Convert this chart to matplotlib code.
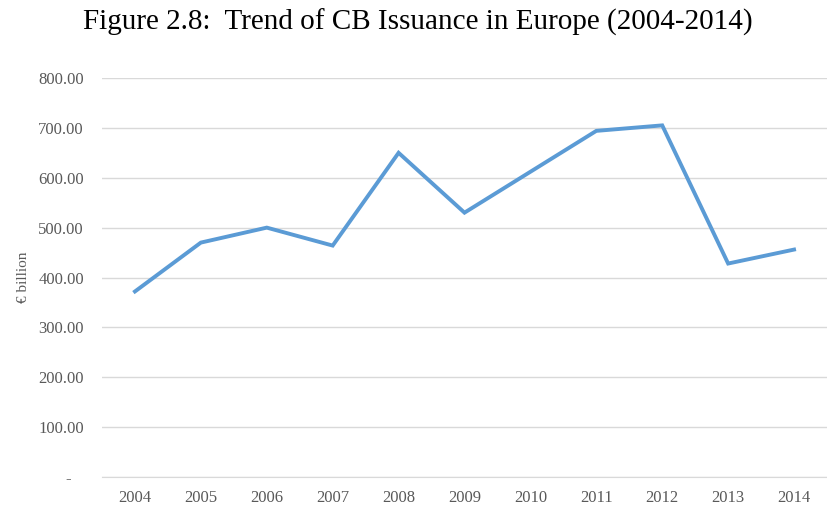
import matplotlib
matplotlib.use("Agg")
import matplotlib.pyplot as plt
from matplotlib.ticker import FuncFormatter

years = ["2004", "2005", "2006", "2007", "2008", "2009", "2010", "2011", "2012", "2013", "2014"]
issuance = [372, 470, 500, 464, 650, 530, 612, 694, 705, 428, 456]
y_ticks = [0, 100, 200, 300, 400, 500, 600, 700, 800]

plt.rcParams["font.family"] = ["Liberation Serif", "DejaVu Serif"]

fig = plt.figure(figsize=(8.27, 5.05), dpi=100)
ax = fig.add_axes([102 / 827, 28 / 505, 725 / 827, 399 / 505])

x = list(range(len(years)))
ax.plot(x, issuance, color="#5b9bd5", linewidth=2.8, solid_joinstyle="miter", zorder=3)

ax.set_xlim(-0.5, len(years) - 0.5)
ax.set_ylim(0, 800)
ax.set_xticks(x)
ax.set_xticklabels(years)
ax.set_yticks(y_ticks)
# Excel accounting style: zero shown as a dash, indented
ax.yaxis.set_major_formatter(FuncFormatter(lambda v, p: "-   " if v == 0 else f"{v:.2f}"))

ax.grid(axis="y", color="#d9d9d9", linewidth=1.0)
ax.set_axisbelow(True)
for s in ["top", "right", "left"]:
    ax.spines[s].set_visible(False)
ax.spines["bottom"].set_color("#d9d9d9")
ax.tick_params(axis="both", length=0, labelsize=12, labelcolor="#595959")
ax.tick_params(axis="y", pad=13)
ax.tick_params(axis="x", pad=9)

ax.set_ylabel("€ billion", fontsize=11, color="#595959", labelpad=6)

fig.text(0.505, 0.955, "Figure 2.8:  Trend of CB Issuance in Europe (2004-2014)",
         fontsize=21, ha="center", va="center")

fig.savefig("out.png", dpi=100)
